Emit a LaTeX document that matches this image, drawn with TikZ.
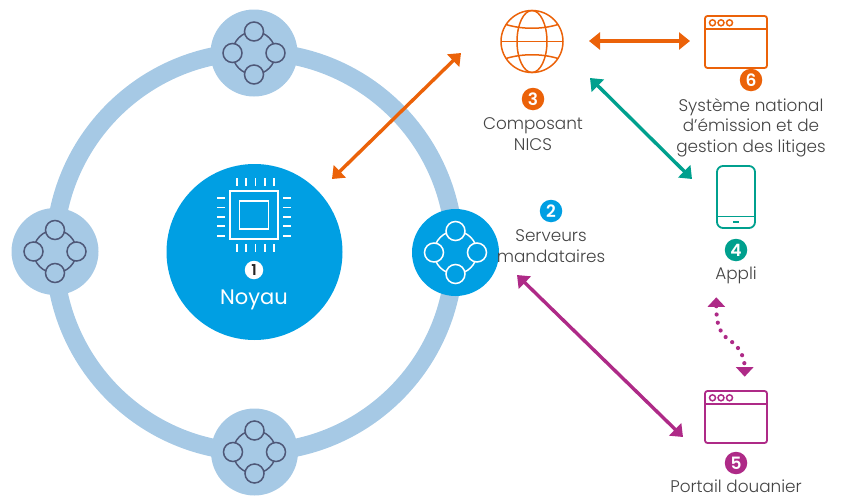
\documentclass[tikz,border=0pt]{standalone}
\usepackage{fontspec}
\setmainfont{Poppins}[UprightFont=* Light,BoldFont=* SemiBold]
\newfontfamily\noyaufont{Poppins}
\usetikzlibrary{arrows.meta}
\definecolor{ringc}{HTML}{A6C9E5}
\definecolor{corec}{HTML}{009FE3}
\definecolor{orangec}{HTML}{EB6209}
\definecolor{tealc}{HTML}{00A08E}
\definecolor{purplec}{HTML}{AE2A87}
\definecolor{inkc}{HTML}{4F5878}
\definecolor{textc}{HTML}{444444}
\tikzset{
 x=1pt,y=-1pt,
 lbl/.style={font=\fontsize{16.85}{20.6}\selectfont,text=textc,align=center,inner sep=0pt},
 badge/.style={circle,fill=#1,text=white,minimum size=22.5pt,inner sep=0pt,font=\fontsize{17}{17}\selectfont\bfseries},
 link/.style={line width=3.4pt,#1,{Triangle[length=11pt,width=17pt]}-{Triangle[length=11pt,width=17pt]}},
 proxy/.style={circle,fill=#1,minimum size=87pt,inner sep=0pt},
 win/.style={draw=#1,line width=1.8pt,rounded corners=2.5pt},
}
\newcommand{\winglyph}[3]{% x,y, colour
 \begin{scope}[shift={(#1,#2)}]
  \draw[win=#3] (0,0) rectangle (62,52);
  \draw[#3,line width=1.5pt] (0,13) -- (62,13);
  \foreach \a in {7.5,16,24.5}{\draw[#3,line width=1.5pt] (\a,6.8) circle[radius=3pt];}
 \end{scope}}
\begin{document}
\begin{tikzpicture}
\useasboundingbox (0,0) rectangle (841,498);
\coordinate (ctr) at (254.5,252);
\draw[ringc,line width=18pt] (ctr) circle[radius=200pt];
\node[proxy=ringc] (pt) at (254,53) {};
\node[proxy=ringc] (pb) at (254.5,452) {};
\node[proxy=ringc] (pl) at (55,251.5) {};
\node[proxy=corec] (pr) at (455.5,252.5) {};
\foreach \n/\c/\f in {pt/inkc/ringc,pb/inkc/ringc,pl/inkc/ringc,pr/white/corec}{
 \begin{scope}[shift={(\n)}]
 \draw[\c,line width=1.5pt] (0,0) circle[radius=21.5pt];
 \foreach \a/\b in {0/-21.5,0/21.5,-21.5/0,21.5/0}{
  \node[circle,draw=\c,line width=1.5pt,fill=\f,minimum size=19pt,inner sep=0pt] at (\a,\b) {};}
 \end{scope}}
% core
\node[circle,fill=corec,minimum size=176pt,inner sep=0pt] (core) at (ctr) {};
\draw[white,line width=1.3pt] (230,191) rectangle (278,239);
\draw[white,line width=1.3pt] (239.5,201) rectangle (268.5,229);
\foreach \p in {237,246,255.5,265,274}{
 \draw[white,line width=1.3pt] (\p,178) -- (\p,186);
 \draw[white,line width=1.3pt] (\p,244) -- (\p,252);}
\foreach \p in {198,207.5,217,226,236}{
 \draw[white,line width=1.3pt] (217,\p) -- (225,\p);
 \draw[white,line width=1.3pt] (283,\p) -- (291,\p);}
\node[circle,fill=white,minimum size=18.5pt,inner sep=0pt,text=black!85,font=\fontsize{15}{15}\selectfont\bfseries] (b1) at (254,270) {1};
\node[font=\noyaufont\fontsize{21}{21}\selectfont,text=white,inner sep=0pt] (noyau) at (254,300) {Noyau};
% labels
\node[badge=corec] (b2) at (551,211) {2};
\node[lbl,anchor=center] (t2) at (551,246) {Serveurs\\mandataires};
\node[badge=orangec] (b3) at (533,99) {3};
\node[lbl] (t3) at (533,134) {Composant\\NICS};
\node[badge=tealc] (b4) at (736,250) {4};
\node[lbl] (t4) at (736,275.5) {Appli};
\node[badge=purplec] (b5) at (736,463) {5};
\node[lbl] (t5) at (736,486.5) {Portail douanier};
\node[badge=orangec] (b6) at (751,80) {6};
\node[lbl] (t6) at (751,127.5) {Système national\\d’émission et de\\gestion des litiges};
% globe
\coordinate (globe) at (532,41.5);
\begin{scope}[shift={(globe)},orangec,line width=1.5pt]
 \draw (0,0) circle[radius=31pt];
 \draw (0,0) ellipse[x radius=15pt,y radius=31pt];
 \draw (-31,0) -- (31,0);
 \draw (-26,-17) .. controls (-10,-12) and (10,-12) .. (26,-17);
 \draw (-26,17) .. controls (-10,12) and (10,12) .. (26,17);
\end{scope}
\winglyph{705}{16}{orangec}
\winglyph{705}{391}{purplec}
% phone
\draw[tealc,line width=1.8pt,rounded corners=6pt] (717,166) rectangle (755,228);
\draw[tealc,line width=1.5pt] (717,216.7) -- (755,216.7);
\draw[tealc,line width=1.8pt] (733,222) -- (739,222);
% arrows
\coordinate (a3l) at (589,41); \coordinate (a6r) at (690,41);
\coordinate (b3t) at (590,78); \coordinate (b4t) at (692,179);
\coordinate (c3) at (461,53); \coordinate (c1) at (332,179);
\coordinate (d2) at (517,275); \coordinate (d5) at (683,437);
\coordinate (e4) at (716.3,297.3); \coordinate (e5) at (744.7,376.7);
\draw[link=orangec] (a3l) -- (a6r);
\draw[link=tealc] (b3t) -- (b4t);
\draw[link=orangec] (c3) -- (c1);
\draw[link=purplec] (d2) -- (d5);
\draw[purplec,line width=4.2pt,dash pattern=on 0pt off 8.3pt,line cap=round,{Triangle[length=9.5pt,width=17pt]}-{Triangle[length=9.5pt,width=17pt]}] (e4) .. controls (716.3,325) and (720,334) .. (730,340.5) .. controls (740,347) and (744.7,358) .. (e5);
\end{tikzpicture}
\end{document}
